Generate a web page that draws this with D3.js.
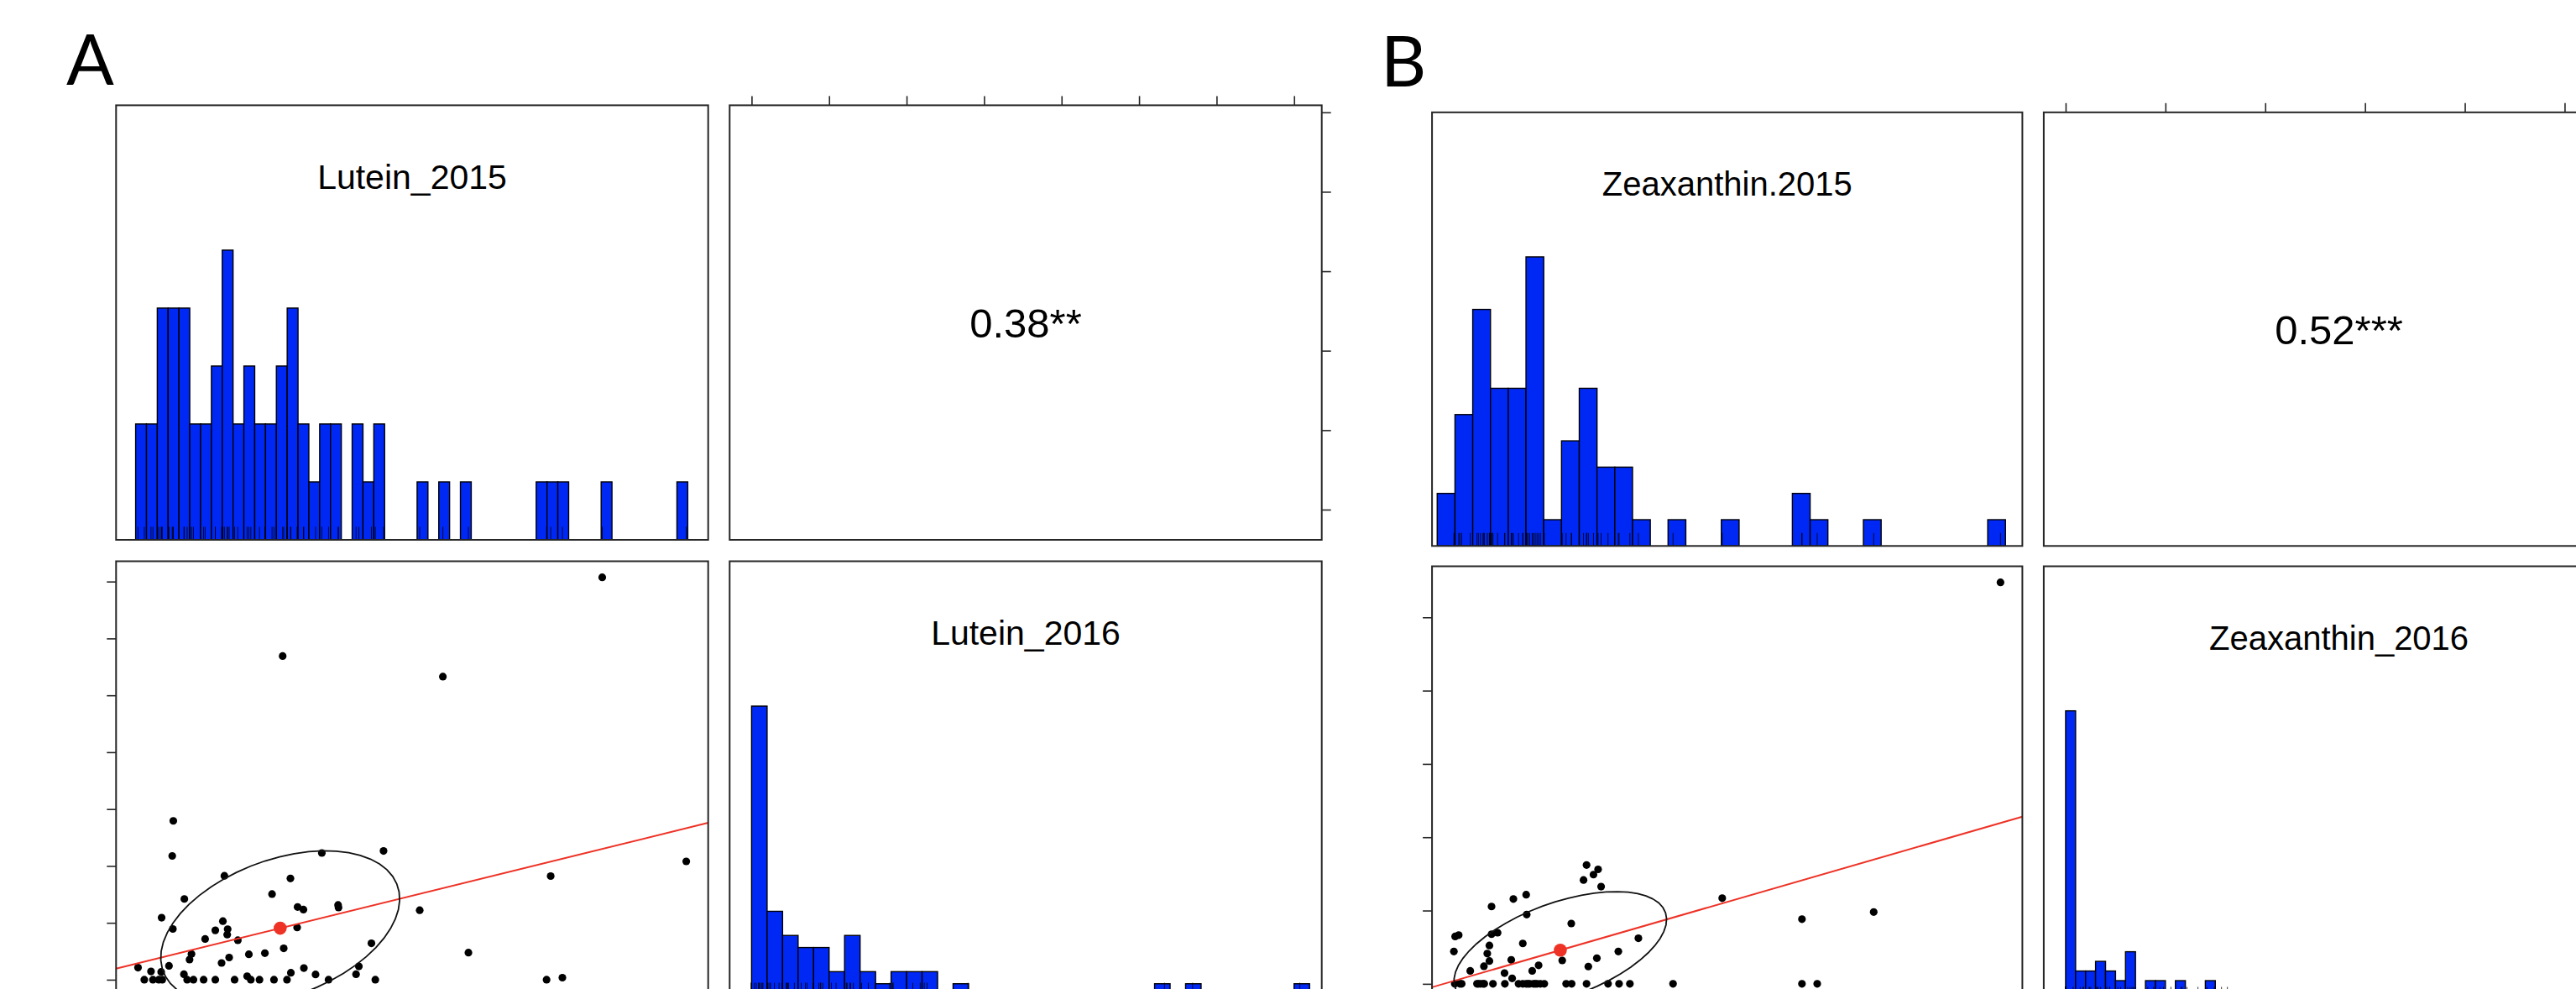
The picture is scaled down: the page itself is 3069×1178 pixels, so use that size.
<!DOCTYPE html>
<html><head><meta charset="utf-8">
<script src="https://cdn.jsdelivr.net/npm/d3@7"></script>
<style>html,body{margin:0;padding:0;background:#fff;} svg{display:block;}</style>
</head><body>
<svg id="chart" width="3069" height="1178"></svg>
<script>
// ---------------- data (one entry per sample, same order in paired arrays) ----------------
const lutein2015 = [25.55,10.79,18.19,5.74,5.69,12.60,15.45,29.43,8.10,11.15,23.17,10.30,6.25,11.48,11.75,13.35,13.37,17.12,5.20,8.03,
  5.72,7.68,8.25,8.23,11.46,7.21,8.72,14.89,10.84,6.58,6.49,9.23,9.97,19.37,8.32,7.97,4.11,5.54,14.31,4.71,
  5.18,11.77,11.17,6.23,12.31,14.18,9.15,23.71,4.40,4.80,5.07,5.23,6.38,6.67,7.14,7.68,8.57,9.32,9.72,10.39,
  10.99,12.91,15.07,22.98];
const lutein2016 = [35.37,28.45,26.64,13.96,10.88,11.14,11.32,10.40,9.13,8.90,9.11,7.53,7.10,6.39,6.16,6.57,6.34,6.11,5.45,5.15,
  4.46,4.34,4.44,3.96,4.59,3.58,3.47,3.20,2.76,2.26,1.77,2.23,2.33,2.38,1.95,1.47,1.06,1.22,1.17,0.73,
  0.68,1.02,0.61,0.48,0.46,0.48,0.30,0.18,0,0,0,0,0,0,0,0,0,0,0,0,
  0,0,0,0];
const zea2015 = [3.372,1.041,1.106,1.080,1.024,1.123,0.701,0.629,1.805,0.506,2.658,0.704,2.254,0.955,0.301,0.321,0.506,0.540,1.333,0.494,
  0.682,0.294,0.482,1.220,0.617,0.494,0.904,1.099,0.771,0.463,1.051,0.386,0.735,0.579,0.622,0.299,0.328,0.338,0.424,0.432,
  0.444,0.458,0.465,0.514,0.581,0.658,0.682,0.701,0.711,0.721,0.742,0.752,0.762,0.781,0.803,0.926,0.957,1.041,1.162,1.224,
  1.285,1.528,2.254,2.340];
const zea2016 = [5.477,1.621,1.562,1.490,1.417,1.326,1.216,1.157,1.169,1.055,0.980,0.945,0.882,0.823,0.646,0.665,0.677,0.697,0.622,0.523,
  0.551,0.441,0.413,0.441,0.327,0.311,0.319,0.350,0.252,0.240,0.236,0.177,0.177,0.146,0.075,0,0,0,0,0,
  0,0,0,0,0,0,0,0,0,0,0,0,0,0,0,0,0,0,0,0,
  0,0,0,0];

const namesA = ["Lutein_2015", "Lutein_2016"];
const namesB = ["Zeaxanthin.2015", "Zeaxanthin_2016"];
const corrLabels = ["0.38**", "0.52***"];
const panelLetters = ["A", "B"];

const lut15Ticks = [5, 10, 15, 20, 25, 30];
const lut16Ticks = [0, 5, 10, 15, 20, 25, 30, 35];
const zea15Ticks = [0.5, 1, 1.5, 2, 2.5, 3];
const zea16Ticks = [0, 1, 2, 3, 4, 5];

// histogram breaks: [first break, bin width, number of bins]
const lut15Breaks = [4, 0.5, 51];
const lut16Breaks = [0, 1, 36];
const zea15Breaks = [0.2, 0.1, 32];
const zea16Breaks = [0, 0.1, 55];

// ---------------- drawing ----------------
const BLUE = "#0028f5", RED = "#ee3226", FRAME = "#262626";
const svg = d3.select("#chart");
svg.append("rect").attr("width", 3069).attr("height", 1178).attr("fill", "#fff");

function padded(values) {
  const [mn, mx] = d3.extent(values);
  const r = mx - mn;
  return [mn - 0.04 * r, mx + 0.04 * r];
}
function breaksOf(b) {
  return d3.range(b[2] + 1).map(k => Math.round((b[0] + b[1] * k) * 1e6) / 1e6);
}

let clipId = 0;
function drawPairs(cfg) {
  const g = svg.append("g");
  const vars = cfg.vars;
  const left = j => cfg.x0 + j * (cfg.pw + cfg.gapX);
  const top = i => cfg.y0 + i * (cfg.ph + cfg.gapY);
  const xs = vars.map((v, j) => d3.scaleLinear().domain(padded(v.values)).range([left(j), left(j) + cfg.pw]));
  const ys = vars.map((v, i) => d3.scaleLinear().domain(padded(v.values)).range([top(i) + cfg.ph, top(i)]));

  // panel letter
  g.append("text").attr("x", cfg.letterX).attr("y", cfg.letterY)
    .attr("font-family", "Lato, 'Open Sans', sans-serif").attr("font-size", 84)
    .attr("fill", "#000").text(cfg.letter);

  // diagonal panels: histogram + rug + name
  vars.forEach((v, i) => {
    const x = xs[i];
    const bottom = top(i) + cfg.ph;
    const yh = d3.scaleLinear().domain([0, 1.5]).range([bottom, top(i)]);
    const br = breaksOf(v.breaks);
    const bins = d3.bin().domain([br[0], br[br.length - 1]]).thresholds(br.slice(1, -1))(v.values);
    const maxC = d3.max(bins, b => b.length);
    g.append("g").selectAll("rect").data(bins.filter(b => b.length > 0)).join("rect")
      .attr("x", b => x(b.x0)).attr("width", b => x(b.x1) - x(b.x0))
      .attr("y", b => yh(b.length / maxC)).attr("height", b => bottom - yh(b.length / maxC))
      .attr("fill", BLUE).attr("stroke", "#000").attr("stroke-width", 1.4);
    g.append("g").selectAll("line").data(v.values).join("line")
      .attr("x1", d => x(d)).attr("x2", d => x(d))
      .attr("y1", bottom).attr("y2", bottom - 0.03 * cfg.ph)
      .attr("stroke", "#000").attr("stroke-width", 0.8);
    g.append("text").attr("x", left(i) + cfg.pw / 2).attr("y", top(i) + cfg.titleDy)
      .attr("text-anchor", "middle").attr("font-family", "'Liberation Sans', Arial, sans-serif")
      .attr("font-size", cfg.titleSize).attr("fill", "#000").text(v.name);
  });

  // upper panel: correlation
  g.append("text").attr("x", left(1) + cfg.pw / 2).attr("y", top(0) + cfg.ph / 2)
    .attr("dy", "0.357em").attr("text-anchor", "middle")
    .attr("font-family", "'Liberation Sans', Arial, sans-serif").attr("font-size", 49)
    .attr("fill", "#000").text(cfg.corr);

  // lower panel: scatter, lm line, correlation ellipse, mean
  const X = vars[0].values, Y = vars[1].values;
  const sx = xs[0], sy = ys[1];
  const id = "clip" + (clipId++);
  svg.append("clipPath").attr("id", id).append("rect")
    .attr("x", left(0)).attr("y", top(1)).attr("width", cfg.pw).attr("height", cfg.ph);
  const sc = g.append("g").attr("clip-path", `url(#${id})`);
  sc.append("g").selectAll("circle").data(X.map((d, k) => [d, Y[k]])).join("circle")
    .attr("cx", d => sx(d[0])).attr("cy", d => sy(d[1])).attr("r", 4.6).attr("fill", "#000");
  const xm = d3.mean(X), ym = d3.mean(Y);
  const xsd = d3.deviation(X), ysd = d3.deviation(Y);
  const cov = d3.sum(X.map((d, k) => (d - xm) * (Y[k] - ym))) / (X.length - 1);
  const r = cov / (xsd * ysd);
  const slope = cov / (xsd * xsd), icpt = ym - slope * xm;
  const [dx0, dx1] = sx.domain();
  sc.append("line").attr("x1", sx(dx0)).attr("y1", sy(icpt + slope * dx0))
    .attr("x2", sx(dx1)).attr("y2", sy(icpt + slope * dx1))
    .attr("stroke", RED).attr("stroke-width", 2);
  const th = Math.sign(r) / Math.SQRT2, a = Math.sqrt(1 + r), b = Math.sqrt(1 - r);
  const ell = d3.range(52).map(k => {
    const t = k * 2 * Math.PI / 51;
    return [xm + xsd * th * (a * Math.cos(t) - b * Math.sin(t)), ym + ysd * th * (a * Math.cos(t) + b * Math.sin(t))];
  });
  sc.append("path").attr("d", d3.line().x(d => sx(d[0])).y(d => sy(d[1]))(ell))
    .attr("fill", "none").attr("stroke", "#111").attr("stroke-width", 1.8);
  sc.append("circle").attr("cx", sx(xm)).attr("cy", sy(ym)).attr("r", 7.8).attr("fill", RED);

  // axes (ticks only, as in the original)
  function ax(axis, tr) {
    const a = g.append("g").attr("transform", tr)
      .call(axis.tickFormat("").tickSize(11).tickSizeOuter(0));
    a.select(".domain").remove();
    a.selectAll("line").attr("stroke", FRAME).attr("stroke-width", 1.6);
  }
  ax(d3.axisTop(xs[1]).tickValues(vars[1].ticks), `translate(0,${top(0)})`);
  ax(d3.axisRight(ys[0]).tickValues(vars[0].ticks), `translate(${left(1) + cfg.pw},0)`);
  ax(d3.axisLeft(ys[1]).tickValues(vars[1].ticks), `translate(${left(0)},0)`);
  ax(d3.axisBottom(xs[0]).tickValues(vars[0].ticks), `translate(0,${top(1) + cfg.ph})`);

  // panel frames
  for (let i = 0; i < 2; i++) for (let j = 0; j < 2; j++) {
    g.append("rect").attr("x", left(j)).attr("y", top(i)).attr("width", cfg.pw).attr("height", cfg.ph)
      .attr("fill", "none").attr("stroke", FRAME).attr("stroke-width", 2);
  }
}

drawPairs({
  letter: panelLetters[0], letterX: 79, letterY: 101, corr: corrLabels[0],
  x0: 138.3, y0: 125.4, pw: 705.4, ph: 517.6, gapX: 25.6, gapY: 25.5, titleDy: 99.5, titleSize: 41,
  vars: [
    { name: namesA[0], values: lutein2015, ticks: lut15Ticks, breaks: lut15Breaks },
    { name: namesA[1], values: lutein2016, ticks: lut16Ticks, breaks: lut16Breaks }
  ]
});
drawPairs({
  letter: panelLetters[1], letterX: 1645, letterY: 103, corr: corrLabels[1],
  x0: 1706.1, y0: 133.8, pw: 703.3, ph: 516.5, gapX: 25.5, gapY: 24.2, titleDy: 99.5, titleSize: 40,
  vars: [
    { name: namesB[0], values: zea2015, ticks: zea15Ticks, breaks: zea15Breaks },
    { name: namesB[1], values: zea2016, ticks: zea16Ticks, breaks: zea16Breaks }
  ]
});
</script>
</body></html>
